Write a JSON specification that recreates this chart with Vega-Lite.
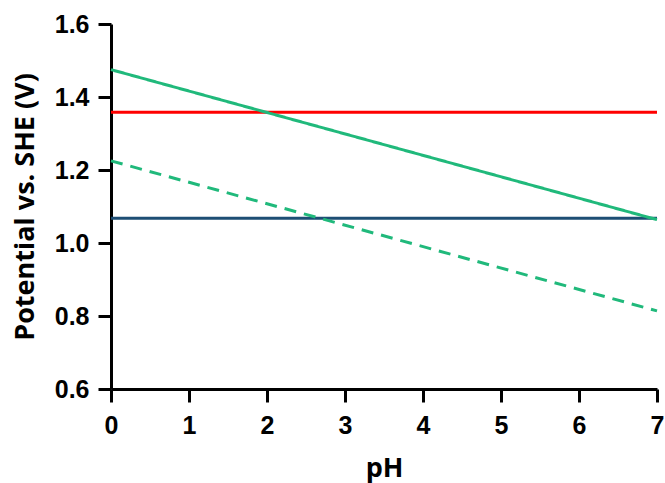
{
  "$schema": "https://vega.github.io/schema/vega-lite/v6.json",
  "width": 546,
  "height": 365,
  "autosize": {"type": "none"},
  "padding": {"left": 111, "top": 24, "right": 8, "bottom": 94},
  "background": "white",
  "config": {
    "view": {"stroke": null},
    "font": "Liberation Sans",
    "axis": {
      "grid": false,
      "domainColor": "black",
      "domainWidth": 3,
      "tickColor": "black",
      "tickWidth": 3,
      "tickSize": 13,
      "labelFont": "Liberation Sans",
      "labelFontWeight": "bold",
      "labelFontSize": 25,
      "labelColor": "black",
      "titleFont": "Open Sans",
      "titleFontWeight": "bold",
      "titleFontSize": 27,
      "titleColor": "black"
    }
  },
  "data": {
    "values": [
      {"series": "Cl2", "pH": 0, "E": 1.358},
      {"series": "Cl2", "pH": 7, "E": 1.358},
      {"series": "Br2", "pH": 0, "E": 1.068},
      {"series": "Br2", "pH": 7, "E": 1.068},
      {"series": "O2", "pH": 0, "E": 1.475},
      {"series": "O2", "pH": 7, "E": 1.064},
      {"series": "O2 overpotential", "pH": 0, "E": 1.225},
      {"series": "O2 overpotential", "pH": 7, "E": 0.814}
    ]
  },
  "mark": {"type": "line", "strokeWidth": 3, "clip": false},
  "encoding": {
    "x": {
      "field": "pH",
      "type": "quantitative",
      "scale": {"domain": [0, 7], "nice": false, "zero": false},
      "axis": {"values": [0, 1, 2, 3, 4, 5, 6, 7], "title": "pH", "labelPadding": 11, "titlePadding": 17, "labelFlush": false}
    },
    "y": {
      "field": "E",
      "type": "quantitative",
      "scale": {"domain": [0.6, 1.6], "nice": false, "zero": false},
      "axis": {"values": [0.6, 0.8, 1.0, 1.2, 1.4, 1.6], "format": ".1f", "title": "Potential vs. SHE (V)", "labelPadding": 9, "titlePadding": 15, "labelFlush": false}
    },
    "color": {
      "field": "series",
      "type": "nominal",
      "scale": {
        "domain": ["Cl2", "Br2", "O2", "O2 overpotential"],
        "range": ["#ff0000", "#1d4e74", "#20b97b", "#20b97b"]
      },
      "legend": null
    },
    "strokeDash": {
      "field": "series",
      "type": "nominal",
      "scale": {
        "domain": ["Cl2", "Br2", "O2", "O2 overpotential"],
        "range": [[1, 0], [1, 0], [1, 0], [12, 8]]
      },
      "legend": null
    },
    "order": {"field": "pH", "type": "quantitative"}
  }
}
